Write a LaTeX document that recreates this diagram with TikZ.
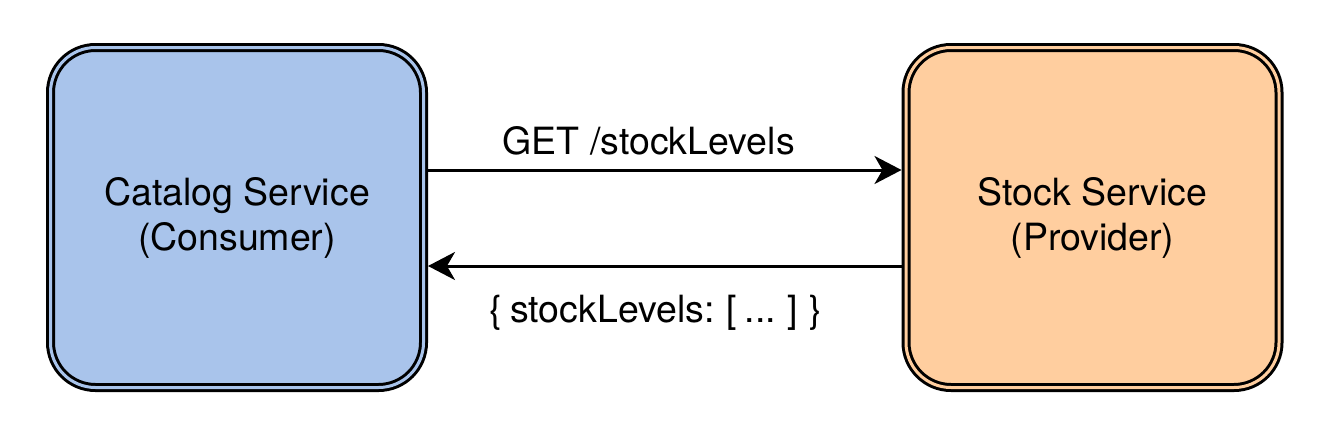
\documentclass[tikz,border=0pt]{standalone}
\usepackage{fontspec}
\setmainfont{TeX Gyre Heros}
\usepackage{tikz}
\usetikzlibrary{arrows.meta,shapes,positioning}
\definecolor{svcblue}{RGB}{169,196,235}
\definecolor{svcorange}{RGB}{255,206,159}
\tikzstyle{service} = [rectangle, rounded corners=45pt, minimum width=373pt, minimum height=340pt, align=center, draw=black, line width=3pt, double distance=3pt, outer sep=4.5pt, font=\fontsize{37.5}{45}\selectfont]
\tikzstyle{arrow} = [line width=3pt, -{Stealth[length=27pt,width=28pt,inset=8pt]}, color=black]
\tikzstyle{call} = [anchor=base, inner sep=0pt, font=\fontsize{37.5}{45}\selectfont]

\begin{document}
\begin{tikzpicture}[node distance=855.5pt]
\useasboundingbox (0pt,0pt) rectangle (1332pt,-442pt);
% Services
\node (catalog) [service, fill=svcblue, double=svcblue] at (237pt,-217.5pt) {Catalog Service\\(Consumer)};
\node (stock) [service, right of=catalog, fill=svcorange, double=svcorange] {Stock Service\\(Provider)};
% Calls
\draw [arrow] ([yshift=47.5pt]catalog.east) -- node[call, pos=0.466, yshift=16pt] {GET /stockLevels} ([yshift=47.5pt]stock.west);
\draw [arrow] ([yshift=-48.5pt]stock.west) -- node[call, pos=0.519, yshift=-56pt] {\spaceskip=8pt\relax\{ stockLevels: [ ... ] \}} ([yshift=-48.5pt]catalog.east);
\end{tikzpicture}
\end{document}
